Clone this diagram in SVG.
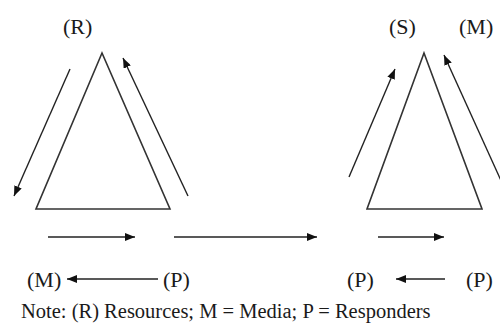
<svg xmlns="http://www.w3.org/2000/svg" width="500" height="327" viewBox="0 0 500 327">
<defs>
<marker id="ah" viewBox="0 0 10 8" refX="10" refY="4" markerWidth="10" markerHeight="8" markerUnits="userSpaceOnUse" orient="auto">
<path d="M0,0 L10,4 L0,8 Z" fill="#111"/>
</marker>
<style>
.tri{fill:none;stroke:#333;stroke-width:1.6;stroke-linejoin:miter}
.ar{stroke:#222;stroke-width:1.4;fill:none;marker-end:url(#ah)}
.lb{font-family:"Liberation Serif","Times New Roman",serif;font-size:22px;fill:#1a1a1a}
.nt{font-family:"Liberation Serif","Times New Roman",serif;font-size:20.5px;fill:#1a1a1a}
</style>
</defs>
<rect width="500" height="327" fill="#fff"/>
<g id="triangle-left">
<polygon class="tri" points="102,53 36,209 170,209"/>
</g>
<g id="triangle-right">
<polygon class="tri" points="424,53 367,209 482,209"/>
</g>
<g id="labels">
<text class="lb" x="63" y="34">(R)</text>
<text class="lb" x="389" y="34">(S)</text>
<text class="lb" x="459" y="34">(M)</text>
<text class="lb" x="27" y="287">(M)</text>
<text class="lb" x="163" y="287">(P)</text>
<text class="lb" x="347" y="287">(P)</text>
<text class="lb" x="466" y="287">(P)</text>
</g>
<g id="connectors">
<line class="ar" x1="70" y1="69" x2="14" y2="196"/>
<line class="ar" x1="188" y1="196" x2="123" y2="58"/>
<line class="ar" x1="349" y1="177" x2="395" y2="69"/>
<line class="ar" x1="508" y1="196" x2="444" y2="55"/>
<line class="ar" x1="48" y1="237" x2="135" y2="237"/>
<line class="ar" x1="174" y1="237" x2="317" y2="237"/>
<line class="ar" x1="378" y1="237" x2="444" y2="237"/>
<line class="ar" x1="158" y1="279" x2="67" y2="279"/>
<line class="ar" x1="445" y1="279" x2="396" y2="279"/>
</g>
<text class="nt" x="21" y="318">Note: (R) Resources; M = Media; P = Responders</text>
</svg>
